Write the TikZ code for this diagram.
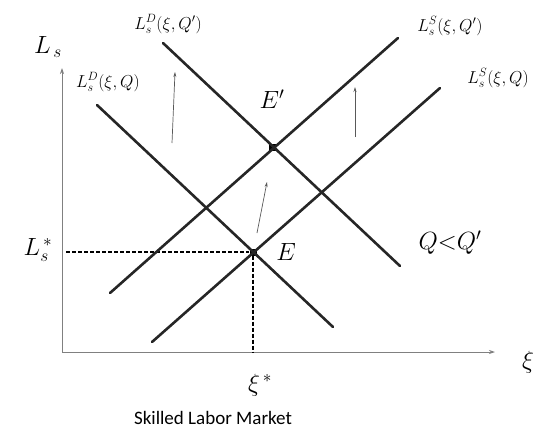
\documentclass[tikz,border=0pt]{standalone}
\usepackage{fontspec}
\newfontfamily\capfont{Carlito}
\usetikzlibrary{arrows.meta}
\begin{document}
\begin{tikzpicture}[x=1pt,y=-1pt,
  curve/.style={line width=2.6pt,black!85,line cap=round},
  axis/.style={line width=0.8pt,gray,-{Stealth[length=6pt,width=4pt]}},
  moveup/.style={line width=0.7pt,gray!70!black,-{Stealth[length=5pt,width=3pt]}},
  guide/.style={line width=1.6pt,dash pattern=on 4pt off 2pt},
  eq/.style={fill=black,minimum size=7pt,inner sep=0pt},
  tag/.style={font=\fontsize{18}{20}\selectfont,inner sep=0pt},
  big/.style={font=\fontsize{26}{28}\selectfont,inner sep=0pt}]
\useasboundingbox (0,0) rectangle (535,428);
% axes
\coordinate (O) at (62,352);
\coordinate (ytop) at (62,68);
\coordinate (xend) at (495,352);
\draw[axis] (O) -- (ytop);
\draw[axis] (O) -- (xend);
\node[big] (ylab) at (48,47) {$L_{\,s}$};
\node[big] (xlab) at (528,362) {$\xi$};
% equilibria
\node[eq] (E) at (253,252) {};
\node[eq] (Ep) at (272,147) {};
\coordinate (Ls) at (66,252);
\coordinate (xs) at (253,352);
\draw[guide] (Ls) -- (E);
\draw[guide] (E) -- (xs);
% demand and supply
\coordinate (d1a) at (97,105);   \coordinate (d1b) at (333,327);
\coordinate (d2a) at (163,43);   \coordinate (d2b) at (400,266);
\coordinate (s1a) at (152,342);  \coordinate (s1b) at (440,88);
\coordinate (s2a) at (110,293);  \coordinate (s2b) at (398,38);
\draw[curve] (d1a) -- (d1b);
\draw[curve] (d2a) -- (d2b);
\draw[curve] (s1a) -- (s1b);
\draw[curve] (s2a) -- (s2b);
% shifts
\coordinate (u1a) at (172,143);  \coordinate (u1b) at (175,72);
\coordinate (u2a) at (355,137);  \coordinate (u2b) at (355,87);
\coordinate (u3a) at (257,233);  \coordinate (u3b) at (267,182);
\draw[moveup] (u1a) -- (u1b);
\draw[moveup] (u2a) -- (u2b);
\draw[moveup] (u3a) -- (u3b);
% labels
\node[tag] (dqp) at (168,24) {$L_s^D(\xi,Q')$};
\node[tag] (dq) at (108,82) {$L_s^D(\xi,Q)$};
\node[tag] (sqp) at (450,26) {$L_s^S(\xi,Q')$};
\node[tag] (sq) at (498,78) {$L_s^S(\xi,Q)$};
\node[big] (Elab) at (286,252) {$E$};
\node[big] (Eplab) at (272,99) {$E'$};
\node[big] (cmp) at (450,243) {$Q{<}Q'$};
\node[big] (Lstar) at (38,250) {$L_s^{\,*}$};
\node[big] (xstar) at (260,385) {$\xi^{\,*}$};
\node[font=\capfont\fontsize{19}{21}\selectfont,inner sep=0pt] (cap) at (213,418) {Skilled Labor Market};
\end{tikzpicture}
\end{document}
